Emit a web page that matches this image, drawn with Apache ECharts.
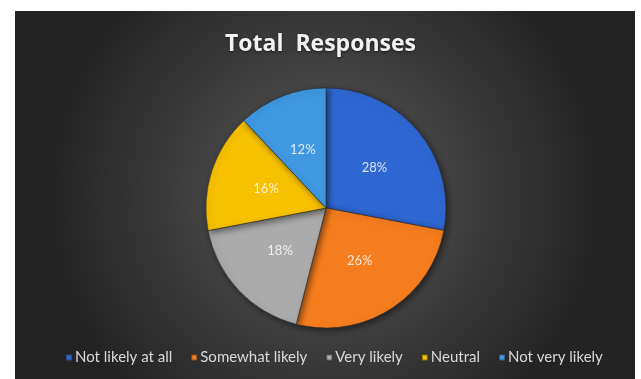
<!DOCTYPE html>
<html>
<head>
<meta charset="utf-8">
<script src="https://cdn.jsdelivr.net/npm/echarts@6/dist/echarts.min.js"></script>
<style>
  html, body { margin: 0; padding: 0; background: #fff; }
  #chart { width: 641px; height: 379px; }
</style>
</head>
<body>
<div id="chart"></div>
<script>
const categories = ['Not likely at all', 'Somewhat likely', 'Very likely', 'Neutral', 'Not very likely']
const shares = [28, 26, 18, 16, 12]
const colors = ['#2f67d2', '#f57d1e', '#ababab', '#f7c100', '#3f98e0']

const chart = echarts.init(document.getElementById('chart'), null, { renderer: 'canvas' })

chart.setOption({
  backgroundColor: '#ffffff',
  graphic: [{
    type: 'rect', z: -10, silent: true,
    shape: { x: 15, y: 11, width: 620, height: 368 },
    style: {
      fill: {
        type: 'radial', x: 0.5, y: 0.5, r: 0.75,
        colorStops: [{ offset: 0, color: '#5a5a5a' }, { offset: 1, color: '#232323' }]
      }
    }
  }],
  title: {
    text: 'Total  Responses', left: 'center', top: 28,
    textStyle: { color: '#f2f2f2', fontFamily: 'Open Sans', fontWeight: 'bold', fontSize: 23,
      textShadowColor: 'rgba(0,0,0,0.6)', textShadowBlur: 3, textShadowOffsetY: 1 }
  },
  legend: {
    bottom: 9, left: 60, icon: 'rect', itemWidth: 6, itemHeight: 6, itemGap: 18,
    textStyle: { color: '#d9d9d9', fontFamily: 'Lato', fontSize: 15, padding: [0, 0, 0, -2] },
    data: categories
  },
  series: [{
    type: 'pie', center: [326, 208], radius: 120, startAngle: 90, clockwise: true,
    animation: false, silent: true,
    label: { position: 'inside', formatter: '{d}%', color: 'rgba(255,255,255,0.82)',
      fontFamily: 'Lato', fontSize: 13 },
    labelLine: { show: false },
    itemStyle: { borderColor: 'rgba(40,40,40,0.5)', borderWidth: 1,
      shadowColor: 'rgba(0,0,0,0.5)', shadowBlur: 6, shadowOffsetX: 2, shadowOffsetY: 2 },
    data: categories.map((c, i) => ({ name: c, value: shares[i], itemStyle: { color: colors[i] } }))
  }]
})
</script>
</body>
</html>
